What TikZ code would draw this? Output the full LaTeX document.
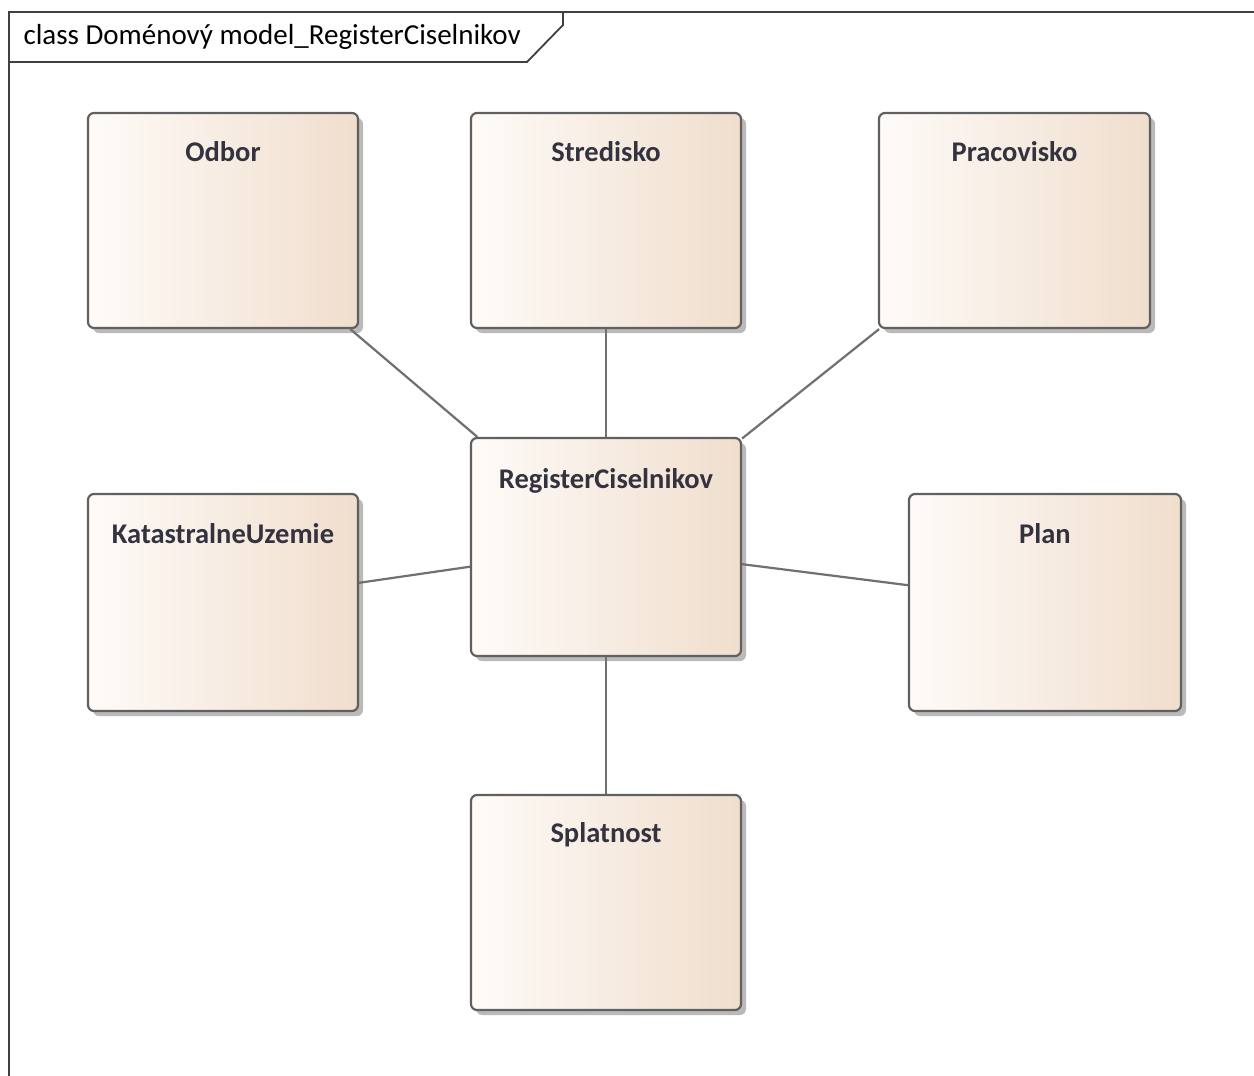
\documentclass[tikz,border=0pt]{standalone}
\usepackage{fontspec}
\setmainfont{Carlito}
\usetikzlibrary{shadows}
\definecolor{boxleft}{HTML}{FEFBF8}
\definecolor{boxright}{HTML}{F0DECD}
\definecolor{boxline}{HTML}{606060}
\definecolor{connline}{HTML}{707070}
\definecolor{labeltext}{HTML}{333340}
\begin{document}
\begin{tikzpicture}[x=1pt,y=-1pt,
  classbox/.style={rectangle, rounded corners=6pt, draw=boxline, line width=2.2pt,
    left color=boxleft, right color=boxright, inner sep=0pt,
    drop shadow={shadow xshift=5pt, shadow yshift=-5pt, fill=black!45, opacity=0.6}},
  classname/.style={font=\bfseries\fontsize{28.5}{31}\selectfont, text=labeltext, anchor=center},
  assoc/.style={draw=connline, line width=2.2pt},
  framepen/.style={draw=black!75, line width=1.8pt}]
  \useasboundingbox (0,0) rectangle (1254,1076);
  \fill[white] (0,0) rectangle (1254,1076);

  % diagram frame with its name tab
  \draw[framepen] (9,1076) -- (9,12) -- (1254,12);
  \draw[framepen] (563,12) -- (563,25) -- (527,62) -- (9,62);
  \node[anchor=west, font=\fontsize{29}{32}\selectfont, text=black] (title) at (20,37)
    {class Doménový model\_RegisterCiselnikov};

  % classes
  \node[classbox, minimum width=270pt, minimum height=215pt] (odbor) at (223,220.5) {};
  \node[classbox, minimum width=270pt, minimum height=215pt] (stredisko) at (606,220.5) {};
  \node[classbox, minimum width=271pt, minimum height=215pt] (pracovisko) at (1014.5,220.5) {};
  \node[classbox, minimum width=270pt, minimum height=218pt] (register) at (606,547) {};
  \node[classbox, minimum width=270pt, minimum height=217pt] (kataster) at (223,602.5) {};
  \node[classbox, minimum width=272pt, minimum height=217pt] (plan) at (1045,602.5) {};
  \node[classbox, minimum width=270pt, minimum height=215pt] (splatnost) at (606,902.5) {};

  % class names
  \node[classname] (odborname) at ([yshift=-40pt]odbor.north) {Odbor};
  \node[classname] (strediskoname) at ([yshift=-40pt]stredisko.north) {Stredisko};
  \node[classname] (pracoviskoname) at ([yshift=-40pt]pracovisko.north) {Pracovisko};
  \node[classname] (registername) at ([yshift=-44pt]register.north) {RegisterCiselnikov};
  \node[classname] (katastername) at ([yshift=-41pt]kataster.north) {KatastralneUzemie};
  \node[classname] (planname) at ([yshift=-41pt]plan.north) {Plan};
  \node[classname] (splatnostname) at ([yshift=-41pt]splatnost.north) {Splatnost};

  % associations
  \draw[assoc] (odbor) -- (register);
  \draw[assoc] (stredisko) -- (register);
  \draw[assoc] (pracovisko) -- (register);
  \draw[assoc] (kataster) -- (register);
  \draw[assoc] (plan) -- (register);
  \draw[assoc] (splatnost) -- (register);
\end{tikzpicture}
\end{document}
